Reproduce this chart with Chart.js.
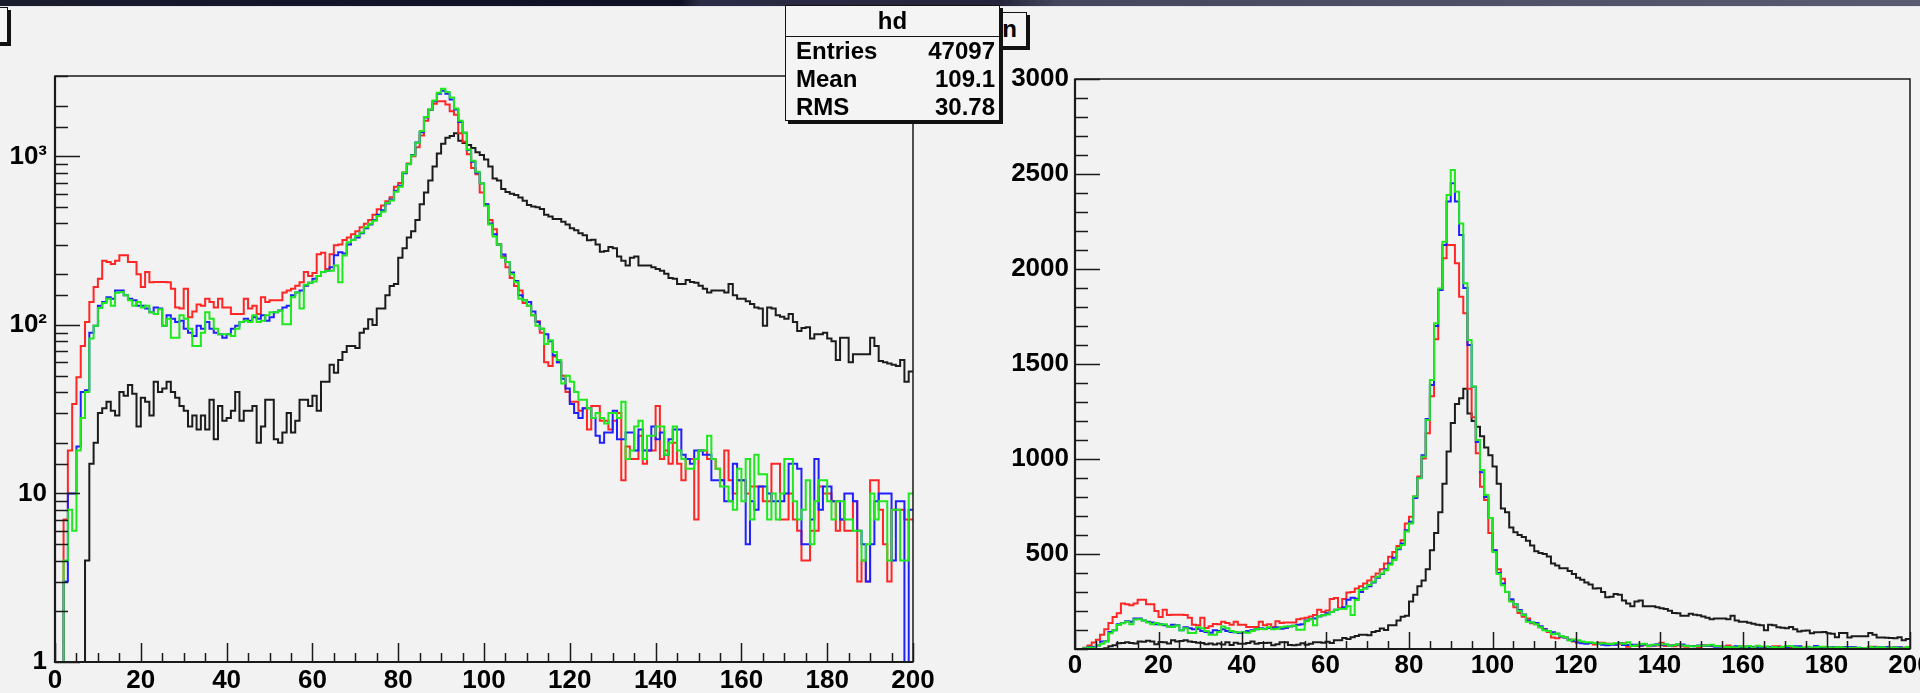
<!DOCTYPE html>
<html>
<head>
<meta charset="utf-8">
<title>hd</title>
<script src="https://cdn.jsdelivr.net/npm/chart.js@4.4.1/dist/chart.umd.min.js"></script>
<style>
    html, body { margin: 0; padding: 0; }
    body {
        width: 1920px; height: 693px; overflow: hidden; position: relative;
        background: #f2f2f2;
        font-family: 'Liberation Sans', Arial, sans-serif;
        font-weight: bold;
    }
    #topbar {
        position: absolute; left: 0; top: 0; width: 1920px; height: 6px;
        background: linear-gradient(90deg, #1d1d30 0px, #17172b 200px, #101024 680px,
                    #2c2c46 700px, #24243a 1000px, #46465e 1060px, #4e4e66 1400px, #5a5a70 1920px);
        border-bottom: 1px solid #e4e4ea;
    }
    canvas { position: absolute; top: 0; }
    #logChart { left: 0; }
    #linChart { left: 960px; }
    .tbox {
        position: absolute; background: #f4f4f4;
        border: 1.5px solid #111; box-shadow: 3px 3px 0 #111;
        font-size: 24px; box-sizing: border-box;
    }
    #leftTitle { left: -60px; top: 7px; width: 68px; height: 36px; }
    #rightTitle { left: 930px; top: 12px; width: 97px; height: 35px;
                  text-align: right; padding-right: 9px; line-height: 32px; }
    #stats { left: 785px; top: 5px; width: 215px; height: 116px; z-index: 5; }
    #stats .head { height: 30px; line-height: 30px; text-align: center;
                   border-bottom: 1.5px solid #111; }
    #stats .row { display: flex; justify-content: space-between;
                  height: 28px; line-height: 28px; padding: 0 4px 0 10px; }
</style>
</head>
<body>
<div id="topbar"></div>
<div id="leftTitle" class="tbox"></div>
<div id="rightTitle" class="tbox">n</div>
<div id="stats" class="tbox"></div>
<canvas id="logChart" width="960" height="693"></canvas>
<canvas id="linChart" width="960" height="693"></canvas>

<script>
// Histogram binning: 200 bins of width 1 on [0, 200)
const BIN_LOW = 0;
const BIN_WIDTH = 1;
const BIN_COUNT = 200;

// Bin contents (same four histograms in both pads)
const blackCounts = [
    0, 0, 0, 0, 0, 0, 0, 4, 15, 20, 30, 32, 35, 31, 29, 40, 38, 44, 39, 25,
    37, 35, 29, 46, 40, 42, 46, 40, 37, 33, 31, 25, 29, 24, 29, 24, 36, 21, 33, 27,
    28, 31, 40, 27, 31, 31, 33, 20, 25, 36, 36, 21, 20, 23, 30, 23, 27, 36, 36, 33,
    38, 31, 46, 46, 58, 52, 62, 69, 75, 75, 73, 90, 95, 108, 100, 125, 125, 150, 170, 175,
    250, 285, 330, 360, 420, 520, 610, 720, 870, 1040, 1190, 1290, 1320, 1370, 1240, 1200, 1170, 1120, 1060, 1020,
    960, 870, 740, 720, 640, 615, 600, 590, 570, 545, 515, 505, 500, 487, 450, 440, 425, 425, 410, 395,
    375, 365, 350, 340, 318, 320, 300, 272, 275, 290, 285, 255, 240, 225, 250, 255, 225, 225, 225, 220,
    215, 210, 201, 190, 188, 175, 175, 185, 180, 178, 171, 164, 156, 160, 160, 160, 156, 175, 150, 143,
    143, 138, 133, 127, 125, 99, 127, 125, 114, 112, 109, 116, 104, 92, 96, 97, 83, 88, 88, 90,
    83, 80, 62, 84, 84, 60, 67, 67, 67, 67, 84, 75, 61, 60, 59, 58, 57, 62, 46, 53
];
const redCounts = [
    0, 0, 7, 18, 34, 49, 75, 104, 137, 168, 188, 240, 236, 230, 240, 259, 259, 236, 236, 200,
    168, 206, 179, 180, 180, 180, 179, 164, 127, 125, 164, 111, 120, 132, 130, 143, 137, 127, 143, 127,
    127, 116, 116, 116, 143, 125, 130, 116, 146, 137, 140, 140, 140, 156, 160, 164, 171, 179, 206, 195,
    203, 263, 268, 215, 263, 297, 300, 319, 330, 345, 360, 380, 398, 420, 450, 485, 511, 542, 573, 661,
    696, 802, 908, 1003, 1135, 1330, 1630, 1890, 2056, 2126, 2126, 2030, 1854, 1767, 1370, 1220, 1030, 854, 784, 610,
    520, 420, 370, 300, 255, 220, 190, 170, 160, 135, 130, 114, 105, 90, 60, 57, 65, 60, 50, 40,
    35, 35, 31, 32, 24, 33, 33, 27, 27, 24, 27, 30, 12, 19, 16, 16, 22, 15, 18, 18,
    33, 16, 18, 15, 20, 15, 12, 16, 16, 7, 18, 18, 16, 16, 14, 12, 18, 12, 10, 12,
    12, 10, 11, 11, 11, 9, 9, 15, 15, 7, 7, 10, 7, 6, 4, 4, 6, 6, 11, 10,
    10, 9, 6, 7, 6, 6, 9, 3, 4, 3, 12, 12, 8, 5, 3, 8, 8, 8, 7, 7
];
const blueCounts = [
    0, 0, 3, 10, 10, 19, 40, 41, 90, 99, 130, 137, 146, 143, 160, 160, 150, 143, 140, 130,
    130, 125, 119, 127, 125, 99, 114, 109, 104, 106, 95, 90, 86, 99, 95, 104, 95, 90, 88, 84,
    88, 95, 99, 104, 109, 106, 111, 109, 114, 106, 111, 119, 122, 127, 130, 150, 156, 160, 171, 178,
    188, 195, 206, 210, 220, 259, 270, 265, 300, 320, 330, 350, 375, 395, 420, 450, 480, 525, 555, 625,
    670, 795, 900, 1020, 1210, 1390, 1700, 1890, 2126, 2355, 2451, 2355, 2179, 1900, 1600, 1380, 1090, 930, 800, 690,
    520, 400, 345, 300, 262, 236, 205, 182, 150, 140, 137, 120, 104, 95, 88, 80, 66, 60, 48, 42,
    34, 30, 28, 32, 32, 28, 22, 20, 23, 23, 31, 21, 21, 23, 23, 18, 24, 18, 18, 25,
    21, 23, 17, 21, 24, 24, 17, 16, 15, 18, 18, 17, 17, 12, 12, 12, 9, 9, 15, 12,
    12, 5, 9, 8, 11, 11, 10, 9, 9, 9, 10, 15, 15, 14, 5, 5, 7, 16, 8, 11,
    11, 9, 9, 7, 10, 10, 9, 6, 5, 3, 5, 9, 10, 10, 10, 4, 9, 9, 0, 8
];
const greenCounts = [
    0, 0, 4, 8, 6, 18, 28, 40, 83, 99, 126, 135, 143, 130, 155, 157, 150, 140, 130, 137,
    127, 130, 119, 116, 124, 99, 109, 84, 84, 114, 109, 95, 75, 75, 90, 119, 109, 95, 88, 88,
    88, 86, 95, 104, 106, 104, 114, 104, 106, 114, 119, 119, 122, 101, 101, 146, 156, 125, 173, 178,
    181, 195, 206, 210, 210, 225, 179, 258, 310, 319, 337, 354, 380, 398, 415, 443, 469, 530, 548, 618,
    661, 802, 899, 1012, 1205, 1416, 1714, 1898, 2144, 2390, 2521, 2407, 2240, 1925, 1626, 1381, 1100, 942, 810, 690,
    510, 395, 335, 300, 250, 236, 200, 179, 143, 140, 130, 114, 99, 95, 77, 81, 69, 62, 45, 50,
    46, 40, 36, 36, 32, 28, 30, 28, 26, 30, 30, 28, 35, 16, 18, 25, 27, 16, 22, 22,
    25, 25, 17, 20, 25, 18, 16, 14, 14, 16, 18, 18, 22, 16, 14, 11, 11, 9, 8, 14,
    9, 16, 7, 17, 13, 13, 7, 10, 7, 10, 16, 16, 9, 7, 8, 12, 5, 9, 12, 12,
    9, 7, 9, 9, 7, 7, 6, 6, 4, 5, 10, 7, 9, 9, 4, 8, 8, 4, 4, 10
];

// Axis ranges and tick labels
const X_MIN = BIN_LOW;
const X_MAX = BIN_LOW + BIN_COUNT * BIN_WIDTH;
const xMinorStep = 5;
const xLabelStep = 20;
const logRange = [1, 3000];
const logTickLabels = { 1: '1', 10: '10', 100: '10\u00B2', 1000: '10\u00B3' };
const linRange = [0, 3000];
const linMinorStep = 100;
const linLabelStep = 500;

// Stats box contents
const statsTitle = 'hd';
const statsRows = [['Entries', '47097'], ['Mean', '109.1'], ['RMS', '30.78']];

Chart.defaults.font.family = "'Liberation Sans', Arial, sans-serif";
Chart.defaults.font.size = 26;
Chart.defaults.font.weight = 'bold';
Chart.defaults.color = '#000';

// ROOT-style frame: full box plus ticks pointing into the pad.
// A tick that carries a label is a major one and gets the long mark.
const rootAxes = {
    id: 'rootAxes',
    afterDraw(chart, args, opts) {
        const ctx = chart.ctx;
        const a = chart.chartArea;
        const xs = chart.scales.x;
        const ys = chart.scales.y;
        ctx.save();
        ctx.strokeStyle = '#1a1a1a';
        ctx.lineWidth = 1.5;
        ctx.strokeRect(a.left, a.top, a.right - a.left, a.bottom - a.top);

        ctx.beginPath();
        xs.ticks.forEach(t => {
            const px = Math.round(xs.getPixelForValue(t.value)) + 0.5;
            const len = t.label !== '' ? opts.xMajor : opts.xMinor;
            ctx.moveTo(px, a.bottom);
            ctx.lineTo(px, a.bottom - len);
        });
        ys.ticks.forEach(t => {
            const py = Math.round(ys.getPixelForValue(t.value)) + 0.5;
            const len = t.label !== '' ? opts.yMajor : opts.yMinor;
            ctx.moveTo(a.left, py);
            ctx.lineTo(a.left + len, py);
        });
        ctx.stroke();

        // axis lines a bit heavier than the rest of the box
        ctx.lineWidth = 2.2;
        ctx.beginPath();
        ctx.moveTo(a.left, a.top);
        ctx.lineTo(a.left, a.bottom);
        ctx.lineTo(a.right, a.bottom);
        ctx.stroke();
        ctx.restore();
    }
};

// Bin contents -> step points at the low edge of each bin, closed at the upper edge
function toPoints(counts, floor) {
    const pts = counts.map((c, i) => ({
        x: BIN_LOW + i * BIN_WIDTH,
        y: floor !== undefined ? Math.max(c, floor) : c
    }));
    pts.push({ x: X_MAX, y: pts[pts.length - 1].y });
    return pts;
}

function makeDatasets(floor) {
    const series = [
        { label: 'black', counts: blackCounts, color: '#1c1c1c', order: 3 },
        { label: 'red', counts: redCounts, color: '#ff2626', order: 2 },
        { label: 'blue', counts: blueCounts, color: '#2020ff', order: 1 },
        { label: 'green', counts: greenCounts, color: '#1fe81f', order: 0 }
    ];
    return series.map(s => ({
        label: s.label,
        data: toPoints(s.counts, floor),
        borderColor: s.color,
        borderWidth: 2,
        pointRadius: 0,
        stepped: true,
        fill: false,
        order: s.order
    }));
}

function xAxis(height, pad) {
    return {
        type: 'linear',
        min: X_MIN,
        max: X_MAX,
        ticks: {
            stepSize: xMinorStep,
            autoSkip: false,
            maxRotation: 0,
            minRotation: 0,
            padding: pad,
            callback: v => (v % xLabelStep === 0 ? String(v) : '')
        },
        grid: { display: false, drawTicks: false },
        border: { display: false },
        afterFit: s => { s.height = height; s.paddingLeft = 0; s.paddingRight = 0; }
    };
}

function baseOptions(padding) {
    return {
        responsive: false,
        animation: false,
        events: [],
        layout: { padding: padding },
        plugins: { legend: { display: false }, tooltip: { enabled: false } }
    };
}

function initLogChart() {
    const options = baseOptions({ top: 76, right: 47, left: 0, bottom: 0 });
    options.plugins.rootAxes = { xMajor: 19, xMinor: 9, yMajor: 25, yMinor: 13 };
    options.scales = {
        x: xAxis(31, 3),
        y: {
            type: 'logarithmic',
            min: logRange[0],
            max: logRange[1],
            ticks: {
                autoSkip: false,
                padding: 8,
                callback: v => logTickLabels[Math.round(v)] || ''
            },
            grid: { display: false, drawTicks: false },
            border: { display: false },
            afterFit: s => { s.width = 55; s.paddingTop = 0; s.paddingBottom = 0; }
        }
    };
    // empty bins sit on the axis minimum, as on a log pad
    new Chart(document.getElementById('logChart'), {
        type: 'line',
        data: { datasets: makeDatasets(logRange[0]) },
        options: options,
        plugins: [rootAxes]
    });
}

function initLinChart() {
    const options = baseOptions({ top: 79, right: 10, left: 0, bottom: 0 });
    options.plugins.rootAxes = { xMajor: 17, xMinor: 8, yMajor: 25, yMinor: 13 };
    options.scales = {
        x: xAxis(44, 1),
        y: {
            type: 'linear',
            min: linRange[0],
            max: linRange[1],
            ticks: {
                stepSize: linMinorStep,
                autoSkip: false,
                padding: 6,
                callback: v => (v > 0 && v % linLabelStep === 0 ? String(v) : '')
            },
            grid: { display: false, drawTicks: false },
            border: { display: false },
            afterFit: s => { s.width = 115; s.paddingTop = 0; s.paddingBottom = 0; }
        }
    };
    new Chart(document.getElementById('linChart'), {
        type: 'line',
        data: { datasets: makeDatasets() },
        options: options,
        plugins: [rootAxes]
    });
}

function fillStats() {
    const box = document.getElementById('stats');
    const head = document.createElement('div');
    head.className = 'head';
    head.textContent = statsTitle;
    box.appendChild(head);
    statsRows.forEach(([name, value]) => {
        const row = document.createElement('div');
        row.className = 'row';
        row.innerHTML = `<span>${name}</span><span>${value}</span>`;
        box.appendChild(row);
    });
}

fillStats();
initLogChart();
initLinChart();
</script>
</body>
</html>
